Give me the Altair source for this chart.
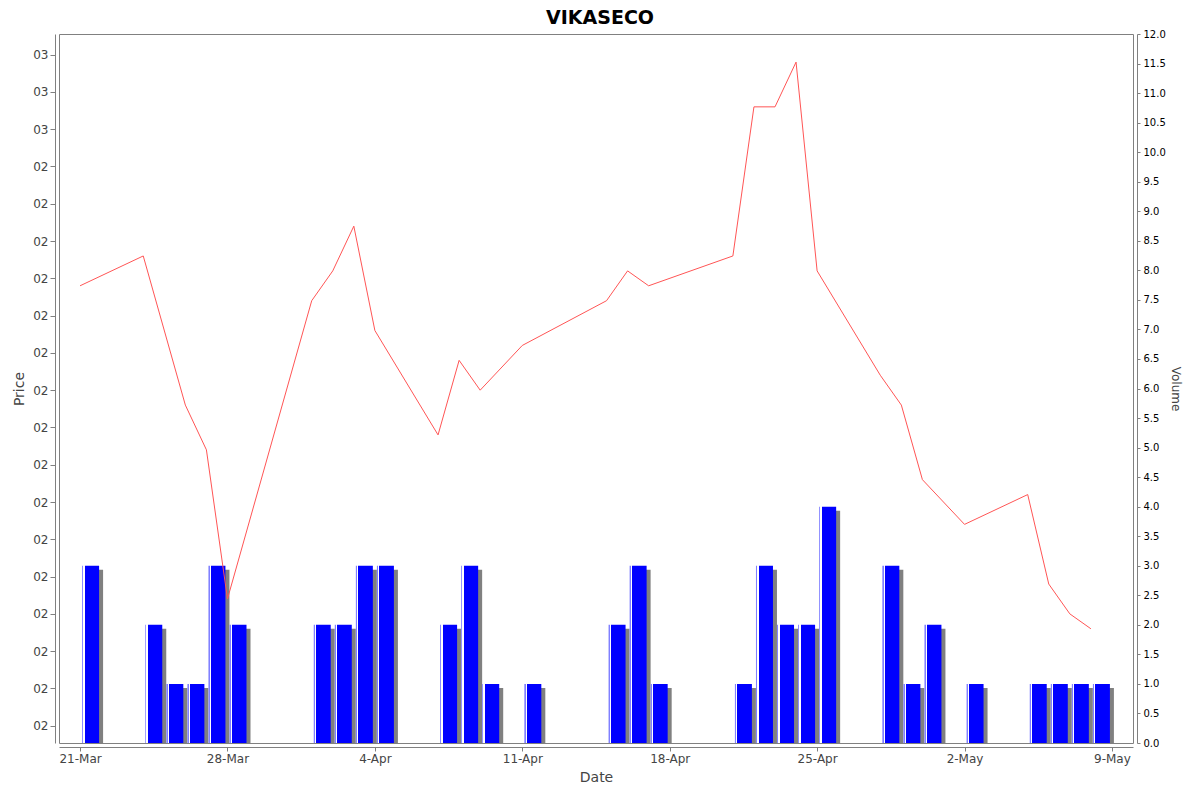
import altair as alt
import pandas as pd

# ---- data ----
title_text = "VIKASECO"
dates = ["2025-03-21", "2025-03-24", "2025-03-25", "2025-03-26", "2025-03-27", "2025-03-28",
         "2025-04-01", "2025-04-02", "2025-04-03", "2025-04-04", "2025-04-07", "2025-04-08",
         "2025-04-09", "2025-04-11",
         "2025-04-15", "2025-04-16", "2025-04-17", "2025-04-21", "2025-04-22", "2025-04-23",
         "2025-04-24", "2025-04-25",
         "2025-04-28", "2025-04-29", "2025-04-30",
         "2025-05-02", "2025-05-05", "2025-05-06", "2025-05-07", "2025-05-08"]
prices = [2.34, 2.38, None, 2.18, 2.12, 1.92,
          2.32, 2.36, 2.42, 2.28, 2.14, 2.24, 2.20, 2.26,
          2.32, 2.36, 2.34, 2.38, 2.58, 2.58, 2.64, 2.36,
          2.22, 2.18, 2.08,
          2.02, 2.06, 1.94, 1.90, 1.88]
volumes = [3, 2, 1, 1, 3, 2,
           2, 2, 3, 3, 2, 3, 1, 1,
           2, 3, 1, 1, 3, 2, 2, 4,
           3, 1, 2,
           1, 1, 1, 1, 1]

price_ticks = [1.75, 1.80, 1.85, 1.90, 1.95, 2.00, 2.05, 2.10, 2.15, 2.20,
               2.25, 2.30, 2.35, 2.40, 2.45, 2.50, 2.55, 2.60, 2.65]
price_tick_labels = ["02", "02", "02", "02", "02", "02", "02", "02", "02", "02",
                     "02", "02", "02", "02", "02", "02", "03", "03", "03"]
volume_ticks = [0.0, 0.5, 1.0, 1.5, 2.0, 2.5, 3.0, 3.5, 4.0, 4.5, 5.0, 5.5, 6.0,
                6.5, 7.0, 7.5, 8.0, 8.5, 9.0, 9.5, 10.0, 10.5, 11.0, 11.5, 12.0]
date_ticks = [(3, 21), (3, 28), (4, 4), (4, 11), (4, 18), (4, 25), (5, 2), (5, 9)]

# ---- tables ----
d = pd.to_datetime(pd.Series(dates))
vol_df = pd.DataFrame({"date": d, "mid": d + pd.Timedelta(hours=12), "volume": volumes})
price_df = pd.DataFrame({"date": d, "price": prices}).dropna()
title_df = pd.DataFrame({"t": [title_text]})

label_expr = ""
for v, lab in zip(price_ticks, price_tick_labels):
    label_expr += f"abs(datum.value - {v}) < 0.001 ? '{lab}' : "
label_expr += "''"

FONT = "DejaVu Sans"
GRAY = "#808080"
TXT = "#444444"
W, H = 1074, 709

xscale = alt.Scale(domain=[alt.DateTime(year=2025, month=3, date=20),
                           alt.DateTime(year=2025, month=5, date=10)],
                   padding=0, nice=False)
vscale = alt.Scale(domain=[0, 12], nice=False, zero=False, padding=0)
pscale = alt.Scale(domain=[1.7268, 2.6777], nice=False, zero=False, padding=0)

x_axis = alt.Axis(
    values=[alt.DateTime(year=2025, month=m, date=dd) for m, dd in date_ticks],
    format="%-d-%b", title="Date", grid=False, offset=4,
    labelFont=FONT, labelFontSize=12, labelColor=TXT, labelPadding=2,
    titleFont=FONT, titleFontSize=14, titleFontWeight="normal", titleColor=TXT,
    titlePadding=6, tickSize=4, tickColor=GRAY, domainColor=GRAY,
)
price_axis = alt.Axis(
    orient="left", values=price_ticks, labelExpr=label_expr, title="Price", grid=False,
    offset=4, labelFont=FONT, labelFontSize=12, labelColor=TXT, labelPadding=2,
    titleFont=FONT, titleFontSize=14, titleFontWeight="normal", titleColor=TXT,
    titlePadding=6, tickSize=5, tickColor=GRAY, domainColor=GRAY,
)
vol_axis = alt.Axis(
    orient="right", values=volume_ticks, format=".1f", title="Volume", grid=False,
    offset=4, labelFont=FONT, labelFontSize=10, labelColor="#000000", labelPadding=3,
    titleFont=FONT, titleFontSize=12, titleFontWeight="normal", titleColor=TXT,
    titlePadding=3, tickSize=3, tickColor=GRAY, domainColor=GRAY,
)

bar_fill = alt.Gradient(
    gradient="linear", x1=0, x2=1, y1=0, y2=0,
    stops=[alt.GradientStop(offset=0.0, color="#8080ff"),
           alt.GradientStop(offset=0.07, color="#8080ff"),
           alt.GradientStop(offset=0.07, color="#ffffff"),
           alt.GradientStop(offset=0.15, color="#ffffff"),
           alt.GradientStop(offset=0.15, color="#0000ff"),
           alt.GradientStop(offset=1.0, color="#0000ff")],
)

shadow = alt.Chart(vol_df).mark_bar(size=17, color=GRAY, xOffset=4, yOffset=4, clip=True).encode(
    x=alt.X("mid:T", scale=xscale, axis=x_axis, title="Date"),
    y=alt.Y("volume:Q", scale=vscale, axis=None),
)
bars = alt.Chart(vol_df).mark_bar(size=17, color=bar_fill).encode(
    x=alt.X("mid:T", scale=xscale, axis=x_axis, title="Date"),
    y=alt.Y("volume:Q", scale=vscale, axis=vol_axis),
)
line = alt.Chart(price_df).mark_line(color="#ff5555", strokeWidth=1).encode(
    x=alt.X("date:T", scale=xscale, axis=x_axis, title="Date"),
    y=alt.Y("price:Q", scale=pscale, axis=price_axis),
)
# chart title, centred over the page, just above the plot frame
title = alt.Chart(title_df).mark_text(
    font=FONT, fontSize=19, fontWeight="bold", color="#000000",
    align="center", baseline="alphabetic",
).encode(text="t:N", x=alt.value(W / 2 + 4), y=alt.value(-10))

chart = alt.layer(shadow, bars, line, title).resolve_scale(y="independent").properties(
    width=W, height=H,
    padding={"left": 51, "top": 26, "right": 59, "bottom": 41},
    autosize=alt.AutoSizeParams(type="none"),
    background="white",
).configure_view(stroke=GRAY, strokeWidth=1)

chart.save("out.html", embed_options={"renderer": "svg", "actions": False})
